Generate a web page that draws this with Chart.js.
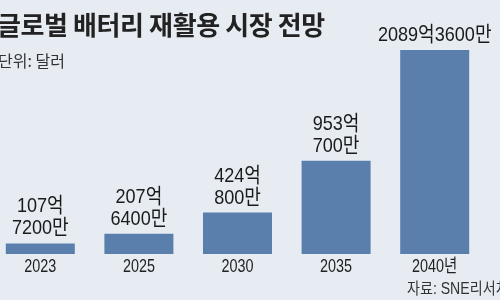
<!DOCTYPE html>
<html>
<head>
<meta charset="utf-8">
<script src="https://cdn.jsdelivr.net/npm/chart.js@4"></script>
<style>
  html, body { margin: 0; padding: 0; }
  body { width: 500px; height: 300px; overflow: hidden; background: #e7ecf2; }
  #wrap { position: relative; width: 500px; height: 300px; overflow: hidden; background: #e7ecf2; }
  #chart { position: absolute; left: -9px; top: 0; }
  .title { position: absolute; left: -3px; top: 9px; font: bold 26px "Noto Sans CJK KR", sans-serif; color: #222; line-height: 30px; white-space: nowrap; letter-spacing: -0.4px; }
  .unit { position: absolute; left: -2px; top: 49px; font: 16px "Noto Sans CJK KR", sans-serif; color: #333; line-height: 22px; white-space: nowrap; }
  .source { position: absolute; left: 407px; top: 279px; font: 16px "Liberation Sans", "Noto Sans CJK KR", sans-serif; color: #333; line-height: 20px; white-space: nowrap; transform: scaleX(0.88); transform-origin: 0 0; }
</style>
</head>
<body>
<div id="wrap">
  <canvas id="chart" width="510" height="300"></canvas>
  <div class="title">글로벌 배터리 재활용 시장 전망</div>
  <div class="unit">단위: 달러</div>
  <div class="source">자료: SNE리서치</div>
</div>
<script>
// 시장 규모 (단위: 억 달러)
const years = ["2023", "2025", "2030", "2035", "2040년"];
const values = [107.72, 207.64, 424.08, 953.7, 2089.36];
const valueLabels = [
    ["107억", "7200만"],
    ["207억", "6400만"],
    ["424억", "800만"],
    ["953억", "700만"],
    ["2089억3600만"]
];

const textFont = '"Liberation Sans", "Noto Sans CJK KR", sans-serif';

// the original uses a condensed face, so squeeze text horizontally
function narrowText(ctx, text, x, y, squeeze) {
    ctx.save();
    ctx.translate(x, y);
    ctx.scale(squeeze, 1);
    ctx.fillText(text, 0, 0);
    ctx.restore();
}

// value labels above each bar + condensed year labels under the x axis
const barLabels = {
    id: "barLabels",
    afterDatasetsDraw(chart) {
        const ctx = chart.ctx;
        const meta = chart.getDatasetMeta(0);
        ctx.save();
        ctx.font = "21px " + textFont;
        ctx.fillStyle = "#1a1a1a";
        ctx.textAlign = "center";
        ctx.textBaseline = "alphabetic";
        meta.data.forEach((bar, i) => {
            const lines = valueLabels[i];
            lines.forEach((line, j) => {
                const y = bar.y - 9 - (lines.length - 1 - j) * 22;
                narrowText(ctx, line, bar.x, y, 0.86);
            });
        });

        const xScale = chart.scales.x;
        ctx.font = "18px " + textFont;
        ctx.fillStyle = "#222";
        ctx.textBaseline = "middle";
        xScale.ticks.forEach((tick, i) => {
            narrowText(ctx, xScale.getLabelForValue(tick.value), xScale.getPixelForTick(i), 267, 0.8);
        });
        ctx.restore();
    }
};

new Chart(document.getElementById("chart"), {
    type: "bar",
    data: {
        labels: years,
        datasets: [{
            data: values,
            backgroundColor: "#5b7fac",
            borderWidth: 0,
            barPercentage: 0.7,
            categoryPercentage: 1
        }]
    },
    options: {
        responsive: false,
        animation: false,
        layout: { padding: { top: 30, right: 17, left: 0, bottom: 0 } },
        plugins: {
            legend: { display: false },
            tooltip: { enabled: false }
        },
        scales: {
            x: {
                grid: { display: false, drawTicks: false },
                border: { display: false },
                ticks: { display: false },
                afterFit(scale) { scale.height = 46; }
            },
            y: {
                display: false,
                min: 0,
                max: 2294
            }
        }
    },
    plugins: [barLabels]
});
</script>
</body>
</html>
